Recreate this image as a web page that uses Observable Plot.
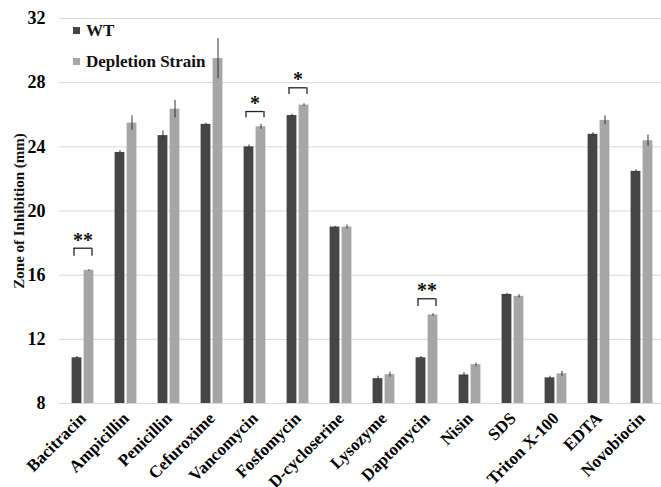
<!DOCTYPE html>
<html><head><meta charset="utf-8">
<script src="https://cdn.jsdelivr.net/npm/d3@7"></script>
<script src="https://cdn.jsdelivr.net/npm/@observablehq/plot@0.6"></script>
<style>
html,body{margin:0;padding:0;background:#fff;overflow:hidden}
#wrap{position:relative;width:661px;height:487px}
.legend{position:absolute;left:73px;top:15px;font-family:"Liberation Serif","Times New Roman",serif;font-weight:bold;font-size:17px;color:#111}
.legend div{display:flex;align-items:center;height:31px}
.legend .sw{display:inline-block;width:7px;height:7px;margin-right:6px}
</style></head><body><div id="wrap"></div>
<script>
const categories = ["Bacitracin","Ampicillin","Penicillin","Cefuroxime","Vancomycin","Fosfomycin","D-cycloserine","Lysozyme","Daptomycin","Nisin","SDS","Triton X-100","EDTA","Novobiocin"];
const seriesNames = ["WT","Depletion Strain"];
const seriesColors = ["#454545","#a6a6a6"];
const wtValues  = [10.85,23.65,24.7,25.4,24.0,25.95,19.0,9.55,10.85,9.78,14.8,9.6,24.78,22.47];
const wtErrors  = [0.08,0.12,0.3,0.08,0.12,0.08,0.05,0.15,0.08,0.15,0.07,0.1,0.1,0.1];
const depValues = [16.3,25.48,26.35,29.5,25.25,26.6,19.0,9.8,13.52,10.42,14.68,9.85,25.65,24.38];
const depErrors = [0.05,0.45,0.55,1.25,0.15,0.08,0.12,0.15,0.08,0.1,0.1,0.15,0.28,0.35];
const yTicks = [8,12,16,20,24,28,32];
const yLabel = "Zone of Inhibition (mm)";
const sigCategories = ["Bacitracin","Vancomycin","Fosfomycin","Daptomycin"];
const sigLabels = ["**","*","*","**"];
const sigBracketTop = [17.68,26.2,27.68,14.53];
const sigBracketLeg = [17.18,25.82,27.26,14.05];

const wt = categories.map((c,i)=>({category:c, series:seriesNames[0], value:wtValues[i], error:wtErrors[i]}));
const dep = categories.map((c,i)=>({category:c, series:seriesNames[1], value:depValues[i], error:depErrors[i]}));
const sig = sigCategories.map((c,i)=>({category:c, label:sigLabels[i], top:sigBracketTop[i], leg:sigBracketLeg[i]}));

const outer = 10.6, inner = 22.6;
const chart = Plot.plot({
  width: 661, height: 487,
  marginLeft: 59, marginRight: 0, marginTop: 18, marginBottom: 84,
  style: {fontFamily: '"Liberation Serif","Times New Roman",serif', fontWeight: "bold", color: "#000", background: "#fff"},
  x: {domain: categories, range: [59.4, 664.2], padding: 0},
  y: {domain: [yTicks[0], yTicks[yTicks.length-1]]},
  marks: [
    Plot.gridY(yTicks, {stroke: "#d9d9d9", strokeOpacity: 1, strokeWidth: 1}),
    Plot.barY(wt, {x: "category", y1: yTicks[0], y2: "value", fill: seriesColors[0], insetLeft: outer, insetRight: inner}),
    Plot.barY(dep, {x: "category", y1: yTicks[0], y2: "value", fill: seriesColors[1], insetLeft: inner, insetRight: outer}),
    Plot.ruleX(wt, {x: "category", y1: d=>d.value-d.error, y2: d=>d.value+d.error, stroke: "#333", strokeWidth: 1, dx: -6}),
    Plot.ruleX(dep, {x: "category", y1: d=>d.value-d.error, y2: d=>d.value+d.error, stroke: "#333", strokeWidth: 1, dx: 6}),
    Plot.tickY(sig, {x: "category", y: "top", stroke: "#222", strokeWidth: 1.3, insetLeft: 12.6, insetRight: 12.6}),
    Plot.ruleX(sig, {x: "category", y1: "leg", y2: "top", stroke: "#222", strokeWidth: 1.3, dx: -9}),
    Plot.ruleX(sig, {x: "category", y1: "leg", y2: "top", stroke: "#222", strokeWidth: 1.3, dx: 9}),
    Plot.text(sig, {x: "category", y: "top", text: "label", fontSize: 20, fontWeight: "bold", fill: "#111", dy: -8}),
    Plot.axisY({ticks: yTicks, tickSize: 0, tickPadding: 14, fontSize: 18, label: null}),
    Plot.axisX({tickRotate: -45, tickSize: 0, tickPadding: 12, fontSize: 17, label: null}),
    Plot.text([yLabel], {text: d=>d, frameAnchor: "left", textAnchor: "middle", rotate: -90, dx: -40, fontSize: 15, fontWeight: "bold", fill: "#111"})
  ]
});
const wrap = document.getElementById("wrap");
wrap.appendChild(chart);
const legend = document.createElement("div");
legend.className = "legend";
seriesNames.forEach((s,i)=>{
  const row = document.createElement("div");
  const sw = document.createElement("span");
  sw.className = "sw"; sw.style.background = seriesColors[i];
  row.appendChild(sw);
  row.appendChild(document.createTextNode(s));
  legend.appendChild(row);
});
wrap.appendChild(legend);
</script></body></html>
